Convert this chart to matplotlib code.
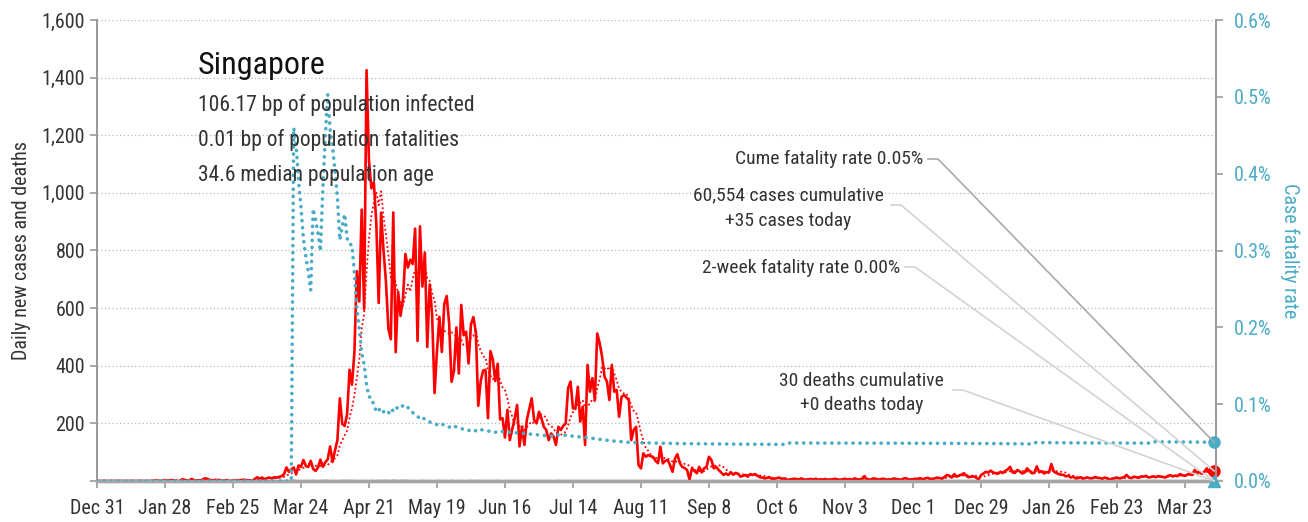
import numpy as np
import pandas as pd
import matplotlib.pyplot as plt
from matplotlib.lines import Line2D
from matplotlib.ticker import FuncFormatter, MultipleLocator

plt.rcParams['font.family'] = ['Roboto Condensed', 'Liberation Sans Narrow', 'DejaVu Sans']

# daily new cases, Dec 31 2019 .. Apr 4 2021
cases_dec19 = [0]
cases_jan20 = [0, 0, 0, 0, 0, 0, 0, 0, 0, 0, 0, 0, 0, 0, 0, 0, 0, 0, 0, 0, 0, 0,
               1, 2, 1, 1, 1, 2, 3, 2, 3]
cases_feb20 = [2, 0, 0, 6, 4, 2, 3, 7, 3, 2, 2, 3, 8, 9, 5, 3, 2, 4, 3, 1,
               1, 3, 1, 0, 1, 2, 3, 3, 4]
cases_mar20 = [4, 2, 2, 2, 7, 13, 8, 12, 6, 10, 12, 9, 13, 12, 14, 17, 23, 47, 32, 40,
               47, 23, 54, 49, 73, 52, 49, 70, 42, 35, 47]
cases_apr20 = [74, 49, 65, 75, 120, 66, 106, 142, 287, 198, 191, 233, 386, 334, 447,
               728, 623, 942, 596, 1426, 1111, 1016, 1037, 897, 618, 931, 799, 690, 528, 492]
cases_may20 = [932, 447, 657, 573, 632, 788, 741, 768, 753, 876, 486, 884, 675, 793, 465,
               682, 577, 305, 451, 570, 448, 614, 642, 548, 344, 383, 533, 373, 611, 506, 518]
cases_jun20 = [408, 544, 569, 517, 261, 347, 383, 386, 218, 451, 422, 347, 407, 214, 218,
               151, 247, 142, 180, 218, 264, 120, 188, 125, 212, 250, 287, 212, 200, 240]
cases_jul20 = [218, 188, 177, 142, 165, 154, 125, 188, 177, 191, 200, 322, 345, 252, 252,
               327, 206, 258, 125, 403, 310, 357, 281, 512, 478, 431, 362, 345, 281, 403, 310]
cases_aug20 = [316, 223, 292, 298, 290, 281, 142, 177, 188, 55, 44, 96, 84, 90, 86,
               84, 70, 62, 119, 61, 70, 73, 55, 32, 78, 93, 62, 49, 45, 38, 5]
cases_sep20 = [44, 35, 27, 49, 30, 44, 49, 84, 73, 44, 49, 38, 30, 21, 26,
               21, 30, 22, 28, 25, 15, 18, 21, 15, 24, 21, 24, 18, 13, 12]
cases_oct20 = [9, 11, 13, 6, 8, 10, 12, 7, 9, 5, 4, 6, 8, 7, 5, 9, 6, 4, 6, 7,
               5, 8, 4, 6, 5, 7, 4, 5, 6, 8, 5]
cases_nov20 = [4, 6, 8, 5, 7, 4, 9, 6, 5, 8, 17, 6, 4, 7, 9, 6, 5, 7, 8, 4,
               6, 5, 9, 7, 6, 4, 8, 10, 6, 5]
cases_dec20 = [6, 8, 7, 10, 6, 9, 11, 8, 7, 9, 12, 10, 8, 14, 21, 18, 12, 24, 15, 19,
               22, 27, 18, 13, 15, 16, 12, 5, 20, 26, 32]
cases_jan21 = [29, 36, 30, 27, 25, 32, 28, 35, 40, 49, 30, 28, 38, 33, 26, 30, 44, 35, 27, 28,
               51, 30, 34, 26, 31, 29, 59, 33, 28, 24, 22]
cases_feb21 = [21, 16, 18, 12, 15, 9, 10, 13, 8, 11, 12, 9, 10, 14, 11, 10, 8, 12, 9, 5,
               7, 10, 12, 9, 11, 14, 21, 12]
cases_mar21 = [10, 15, 13, 11, 16, 15, 18, 12, 14, 16, 13, 17, 15, 14, 12, 18, 20, 16, 19, 17,
               24, 20, 18, 22, 27, 21, 38, 29, 32, 25, 32]
cases_apr21 = [44, 28, 30, 35]

# deaths by report date
death_dates = ['2020-03-21', '2020-03-29', '2020-04-02', '2020-04-03', '2020-04-04',
               '2020-04-10', '2020-04-11', '2020-04-13', '2020-04-14', '2020-04-22',
               '2020-04-25', '2020-04-27', '2020-04-28', '2020-05-01', '2020-05-02',
               '2020-05-04', '2020-05-05', '2020-05-06', '2020-05-13', '2020-05-20',
               '2020-05-25', '2020-06-02', '2020-06-05', '2020-06-13', '2020-07-08',
               '2020-10-10', '2021-01-19', '2021-03-10']
death_counts = [2, 1, 1, 1, 1, 1, 1, 1, 1, 1, 1, 1, 1, 2, 1, 1, 1, 1, 1, 1,
                1, 1, 1, 1, 1, 1, 1, 1]

tick_labels = ['Dec 31', 'Jan 28', 'Feb 25', 'Mar 24', 'Apr 21', 'May 19', 'Jun 16',
               'Jul 14', 'Aug 11', 'Sep 8', 'Oct 6', 'Nov 3', 'Dec 1', 'Dec 29',
               'Jan 26', 'Feb 23', 'Mar 23']

stats_lines = ['106.17 bp of population infected',
               '0.01 bp of population fatalities',
               '34.6 median population age']

RED = '#ff0000'
BLUE = '#4bacc6'
GREY = '#999999'
INK = '#333333'

cases = np.array(cases_dec19 + cases_jan20 + cases_feb20 + cases_mar20 + cases_apr20 +
                 cases_may20 + cases_jun20 + cases_jul20 + cases_aug20 + cases_sep20 +
                 cases_oct20 + cases_nov20 + cases_dec20 + cases_jan21 + cases_feb21 +
                 cases_mar21 + cases_apr21, dtype=float)
dates = pd.date_range('2019-12-31', periods=len(cases))
deaths = pd.Series(0.0, index=dates)
for d, c in zip(death_dates, death_counts):
    deaths[pd.Timestamp(d)] += c
deaths = deaths.values
days = np.arange(len(cases))

avg7 = pd.Series(cases).rolling(7, min_periods=1).mean().values
cum_cases = np.cumsum(cases)
cum_deaths = np.cumsum(deaths)
cfr = np.where(cum_cases > 0, cum_deaths / np.maximum(cum_cases, 1), 0.0)
two_week = deaths[-14:].sum() / cases[-14:].sum()

W, H = 1308, 522
fig = plt.figure(figsize=(W / 100, H / 100), dpi=100)
ax = fig.add_axes([97 / W, 1 - 481 / H, (1216 - 97) / W, (481 - 20) / H])
ax2 = ax.twinx()

ax.set_xlim(0, len(cases) - 0.2)
ax.set_ylim(0, 1600)
ax2.set_ylim(0, 0.006)

ax.yaxis.set_major_locator(MultipleLocator(200))
ax.yaxis.set_major_formatter(FuncFormatter(lambda v, p: '' if v == 0 else f'{v:,.0f}'))
ax2.yaxis.set_major_locator(MultipleLocator(0.001))
ax2.yaxis.set_major_formatter(FuncFormatter(lambda v, p: f'{v * 100:.1f}%'))
ax.set_xticks(np.arange(0, len(cases), 28))
ax.set_xticklabels(tick_labels)

ax.grid(axis='y', color='#b5b5b5', linestyle=(0, (1, 2)), lw=0.9)
ax.set_axisbelow(True)

for a in (ax, ax2):
    a.spines['top'].set_visible(False)
    a.spines['left'].set_color(GREY)
    a.spines['right'].set_color(GREY)
    a.spines['bottom'].set_color('#a6a6a6')
    a.spines['left'].set_linewidth(1.4)
    a.spines['right'].set_linewidth(1.4)
    a.spines['bottom'].set_linewidth(2.4)
ax2.spines['left'].set_visible(False)
ax.spines['right'].set_visible(False)

ax.tick_params(axis='both', colors=GREY, length=5, width=1.2, labelsize=14.5,
               labelcolor=INK)
ax.tick_params(axis='x', pad=8)
ax2.tick_params(axis='y', colors=GREY, length=5, width=1.2, labelsize=14.5,
                labelcolor=BLUE, pad=8)

ax.plot(days, deaths, color='#a0a0a0', lw=1.6, zorder=2)
ax.plot(days, avg7, color=RED, lw=1.3, linestyle=(0, (1, 1.4)), zorder=3)
ax.plot(days, cases, color=RED, lw=1.9, zorder=4)
ax2.plot(days, cfr, color=BLUE, lw=2.6, linestyle=(0, (0.05, 1.9)),
         dash_capstyle='round', zorder=3)

ax.set_ylabel('Daily new cases and deaths', fontsize=14.5, color=INK, labelpad=8)
ax2.set_ylabel('Case fatality rate', fontsize=14.5, color=BLUE, rotation=270, labelpad=20)

# end-of-series markers
last = days[-1]
ax2.plot(last, cfr[-1], 'o', color=BLUE, ms=8, clip_on=False, zorder=6)
ax.plot(last, cases[-1], 'o', color=RED, ms=8, clip_on=False, zorder=6)
ax2.plot(last, two_week, '^', color=BLUE, ms=9, clip_on=False, zorder=6)

# title block
fig.text(198 / W, 1 - 66 / H, 'Singapore', fontsize=23, color='#111111', va='center')
for i, line in enumerate(stats_lines):
    fig.text(198 / W, 1 - (105 + 35.5 * i) / H, line, fontsize=15.5, color=INK,
             va='center')

fig.canvas.draw()


def label(text, x, y, ha):
    fig.text(x / W, 1 - y / H, text, fontsize=14, color=INK, ha=ha, va='center',
             multialignment='center', linespacing=1.5)


def leader(lx, ly, target, color):
    px, py = target
    fig.add_artist(Line2D([lx, lx + 10, px], [H - ly, H - ly, py], color=color,
                          lw=1.2, transform=None, zorder=1))


p_cfr = ax2.transData.transform((last, cfr[-1]))
p_case = ax.transData.transform((last, cases[-1]))
p_two = ax2.transData.transform((last, two_week))
p_death = ax.transData.transform((last, deaths[-1]))

label('Cume fatality rate 0.05%', 923, 159, 'right')
leader(928, 159, p_cfr, '#aaaaaa')

label('60,554 cases cumulative\n+35 cases today', 884, 208, 'right')
leader(891, 205, p_case, '#d3d3d3')

label('2-week fatality rate 0.00%', 900, 268, 'right')
leader(905, 267, p_two, '#d3d3d3')

label('30 deaths cumulative\n+0 deaths today', 944, 393, 'right')
leader(953, 390, p_death, '#d3d3d3')

fig.savefig('out.png', dpi=100)
